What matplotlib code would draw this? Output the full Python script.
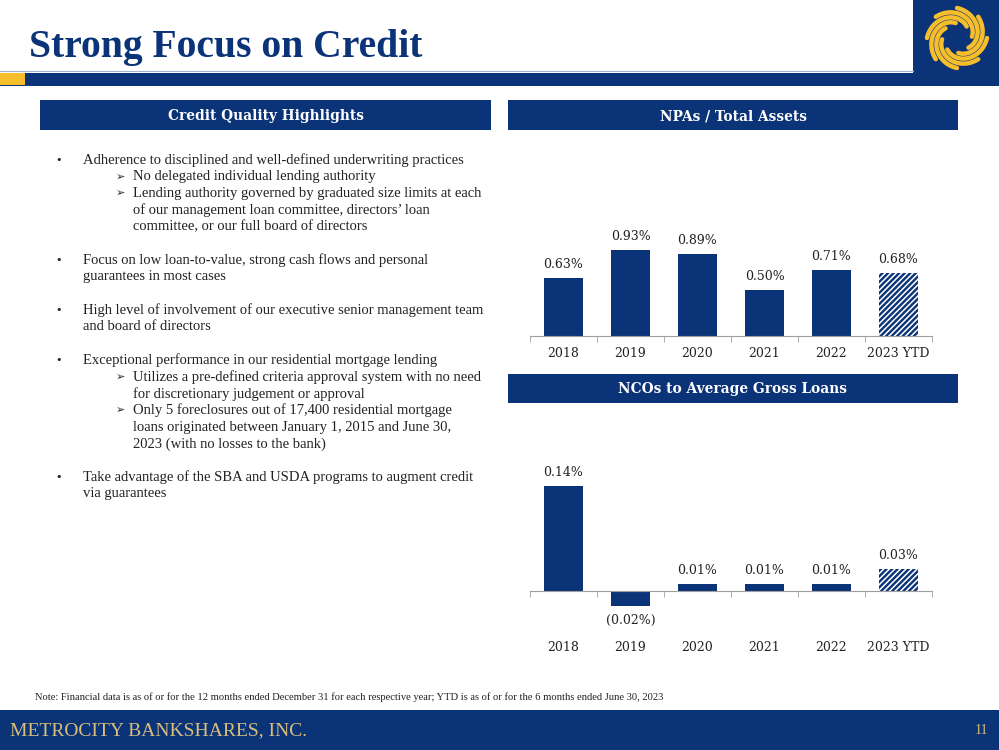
import numpy as np
import matplotlib.pyplot as plt
from matplotlib.patches import Rectangle

W, H = 999, 750
NAVY = "#0B3378"
GOLD = "#F7BE2B"
FOOT_GOLD = "#D8BE7A"
SERIF = "Liberation Serif"
BODY = "DejaVu Serif"

# data
years = ["2018", "2019", "2020", "2021", "2022", "2023 YTD"]
npa_vals = [0.63, 0.93, 0.89, 0.50, 0.71, 0.68]
npa_labels = ["0.63%", "0.93%", "0.89%", "0.50%", "0.71%", "0.68%"]
nco_vals = [0.14, -0.02, 0.01, 0.01, 0.01, 0.03]
nco_labels = ["0.14%", "(0.02%)", "0.01%", "0.01%", "0.01%", "0.03%"]

bullets = [
    (0, "Adherence to disciplined and well-defined underwriting practices"),
    (1, "No delegated individual lending authority"),
    (1, "Lending authority governed by graduated size limits at each"),
    (2, "of our management loan committee, directors\u2019 loan"),
    (2, "committee, or our full board of directors"),
    (None, ""),
    (0, "Focus on low loan-to-value, strong cash flows and personal"),
    (3, "guarantees in most cases"),
    (None, ""),
    (0, "High level of involvement of our executive senior management team"),
    (3, "and board of directors"),
    (None, ""),
    (0, "Exceptional performance in our residential mortgage lending"),
    (1, "Utilizes a pre-defined criteria approval system with no need"),
    (2, "for discretionary judgement or approval"),
    (1, "Only 5 foreclosures out of 17,400 residential mortgage"),
    (2, "loans originated between January 1, 2015 and June 30,"),
    (2, "2023 (with no losses to the bank)"),
    (None, ""),
    (0, "Take advantage of the SBA and USDA programs to augment credit"),
    (3, "via guarantees"),
]
note = ("Note: Financial data is as of or for the 12 months ended December 31 for each "
        "respective year; YTD is as of or for the 6 months ended June 30, 2023")

plt.rcParams["hatch.linewidth"] = 1.7


def box(x0, y0, x1, y1):
    return [x0 / W, 1 - y1 / H, (x1 - x0) / W, (y1 - y0) / H]


fig = plt.figure(figsize=(W / 100, H / 100), dpi=100)
bg = fig.add_axes([0, 0, 1, 1])
bg.set_xlim(0, W)
bg.set_ylim(H, 0)
bg.axis("off")

# top banner
bg.text(29, 47, "Strong Focus on Credit", fontsize=28.5, fontweight="bold",
        family=SERIF, color=NAVY, va="center", ha="left")
bg.add_patch(Rectangle((0, 73), W, 13, color=NAVY, lw=0))
bg.add_patch(Rectangle((0, 73), 25, 12, color=GOLD, lw=0))
bg.add_patch(Rectangle((913, 0), W - 913, 86, color=NAVY, lw=0))
bg.plot([0, 913], [71, 71], color="#9FB3D1", lw=0.8)
# logo swirl
cx, cy = 957, 38
t = np.linspace(0, 1, 40)
for k in range(8):
    th = np.radians(k * 45 + t * 130)
    r = 30 - 15 * t
    bg.plot(cx + r * np.cos(th), cy + r * np.sin(th), color=GOLD, lw=3.2,
            solid_capstyle="round")

# section headers
for (x0, y0, x1, y1, txt) in [(40, 100, 491, 130, "Credit Quality Highlights"),
                              (508, 100, 958, 130, "NPAs / Total Assets"),
                              (508, 374, 958, 403, "NCOs to Average Gross Loans")]:
    bg.add_patch(Rectangle((x0, y0), x1 - x0, y1 - y0, color=NAVY, lw=0))
    bg.text((x0 + x1) / 2, (y0 + y1) / 2 + 1, txt, color="white", fontsize=9.9,
            fontweight="bold", family=BODY, ha="center", va="center")

# bullet text
y = 160
for level, line in bullets:
    if level == 0:
        bg.text(55, y, "\u2022", fontsize=8, color="#222222", va="center")
        bg.text(83, y, line, fontsize=10.5, family=SERIF, color="#222222", va="center")
    elif level == 1:
        bg.text(116, y, "\u27A2", fontsize=8, family="DejaVu Sans", color="#222222", va="center")
        bg.text(133, y, line, fontsize=10.5, family=SERIF, color="#222222", va="center")
    elif level == 2:
        bg.text(133, y, line, fontsize=10.5, family=SERIF, color="#222222", va="center")
    elif level == 3:
        bg.text(83, y, line, fontsize=10.5, family=SERIF, color="#222222", va="center")
    y += 16.7

# note and footer
bg.text(35, 697, note, fontsize=7.6, family=SERIF, color="#222222", va="center")
bg.add_patch(Rectangle((0, 710), W, 40, color=NAVY, lw=0))
bg.text(10, 731, "METROCITY BANKSHARES, INC.", fontsize=14, family=SERIF,
        color=FOOT_GOLD, va="center")
bg.text(981, 731, "11", fontsize=10, family=SERIF, color=FOOT_GOLD,
        va="center", ha="center")


def bar_chart(rect, vals, labels, ylim, pad_ticks, pad_neg):
    ax = fig.add_axes(rect)
    x = list(range(len(vals)))
    bars = ax.bar(x[:-1], vals[:-1], width=0.57, color=NAVY)
    last = ax.bar(x[-1:], vals[-1:], width=0.57, color="white",
                  edgecolor=NAVY, hatch="//////", lw=0)
    ax.set_xlim(-0.5, len(vals) - 0.5)
    ax.set_ylim(*ylim)
    for s in ["top", "left", "right"]:
        ax.spines[s].set_visible(False)
    ax.spines["bottom"].set_position(("data", 0))
    ax.spines["bottom"].set_color("#A0A0A0")
    ax.set_yticks([])
    ax.set_xticks(x)
    ax.set_xticklabels(years, family=BODY, fontsize=9, color="#222222")
    ax.tick_params(axis="x", which="major", length=0, pad=pad_ticks)
    ax.set_xticks([i - 0.5 for i in range(len(vals) + 1)], minor=True)
    ax.tick_params(axis="x", which="minor", length=4, color="#A0A0A0", direction="out")
    for b, lab, v in zip(list(bars) + list(last), labels, vals):
        xc = b.get_x() + b.get_width() / 2
        if v >= 0:
            ax.annotate(lab, (xc, v), xytext=(0, 5), textcoords="offset points",
                        ha="center", va="bottom", family=BODY, fontsize=9, color="#222222")
        else:
            ax.annotate(lab, (xc, v), xytext=(0, -pad_neg), textcoords="offset points",
                        ha="center", va="top", family=BODY, fontsize=9, color="#222222")
    return ax


bar_chart(box(530, 225, 932, 336), npa_vals, npa_labels, (0, 1.2), 8, 7)
bar_chart(box(530, 471, 932, 613.5), nco_vals, nco_labels, (-0.03, 0.16), 36, 6)

fig.savefig("out.png", dpi=100)
